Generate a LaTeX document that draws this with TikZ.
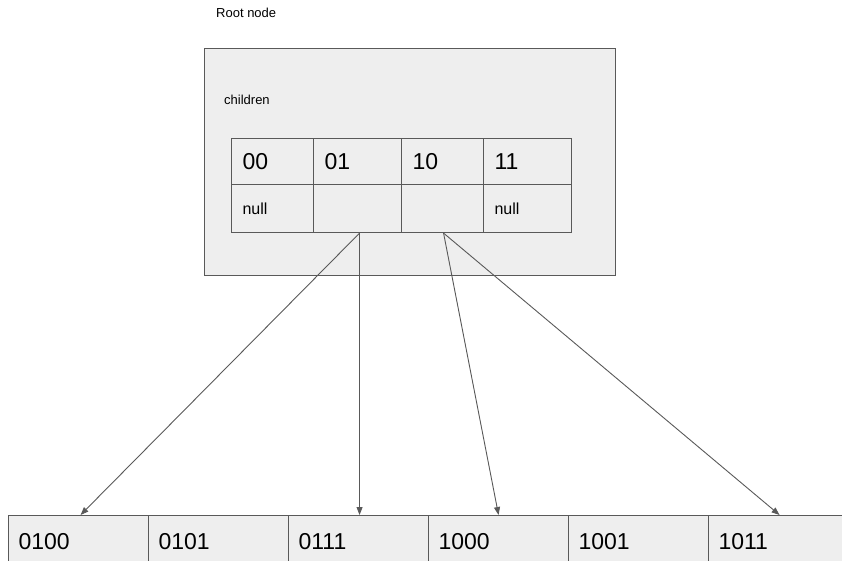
\documentclass[tikz,border=0pt]{standalone}
\usepackage{fontspec}
\setmainfont{Liberation Sans}
\usetikzlibrary{arrows.meta}
\definecolor{boxfill}{HTML}{EEEEEE}
\definecolor{boxline}{HTML}{595959}
\begin{document}
\begin{tikzpicture}[x=1pt,y=-1pt,
  box/.style={draw=boxline,fill=boxfill,line width=1.1pt,rectangle,inner sep=0pt},
  cellbox/.style={box,anchor=north west,minimum height=#1,inner ysep=0pt,inner xsep=11pt,align=left},
  big/.style={font=\fontsize{23}{27}\selectfont},
  small/.style={font=\fontsize{16}{19}\selectfont},
  tiny/.style={font=\fontsize{13}{16}\selectfont,inner sep=0pt},
  link/.style={draw=boxline,line width=0.9pt,-{Triangle[length=8pt,width=6pt]}}]
\useasboundingbox (0,0) rectangle (842,561);
\clip (0,0) rectangle (842,561);
\node[tiny,anchor=west] (title) at (216,13) {Root node};
\node[box,anchor=north west,minimum width=411pt,minimum height=227pt] (root) at (204,48) {};
\node[tiny,anchor=west] (chl) at (224,100) {children};
% key row
\node[cellbox=46pt,big,text width=60pt] (k00) at (231,138) {00};
\node[cellbox=46pt,big,text width=66pt] (k01) at (313,138) {01};
\node[cellbox=46pt,big,text width=60pt] (k10) at (401,138) {10};
\node[cellbox=46pt,big,text width=66pt] (k11) at (483,138) {11};
% value row
\node[cellbox=48pt,small,text width=60pt] (v00) at (231,184) {null};
\node[cellbox=48pt,small,text width=66pt] (v01) at (313,184) {};
\node[cellbox=48pt,small,text width=60pt] (v10) at (401,184) {};
\node[cellbox=48pt,small,text width=66pt] (v11) at (483,184) {null};
% bottom row
\node[cellbox=52pt,big,inner xsep=10pt,text width=120pt] (b1) at (8,515) {0100};
\node[cellbox=52pt,big,inner xsep=10pt,text width=120pt] (b2) at (148,515) {0101};
\node[cellbox=52pt,big,inner xsep=10pt,text width=120pt] (b3) at (288,515) {0111};
\node[cellbox=52pt,big,inner xsep=10pt,text width=120pt] (b4) at (428,515) {1000};
\node[cellbox=52pt,big,inner xsep=10pt,text width=120pt] (b5) at (568,515) {1001};
\node[cellbox=52pt,big,inner xsep=10pt,text width=120pt] (b6) at (708,515) {1011};
% links
\coordinate (s1) at ([xshift=2pt]v01.south);
\coordinate (s2) at ([xshift=1pt]v10.south);
\draw[link] (s1) -- ([xshift=2pt]b1.north);
\draw[link] (s1) -- ([xshift=1pt]b3.north);
\draw[link] (s2) -- (b4.north);
\draw[link] (s2) -- ([xshift=1pt]b6.north);
\end{tikzpicture}
\end{document}
